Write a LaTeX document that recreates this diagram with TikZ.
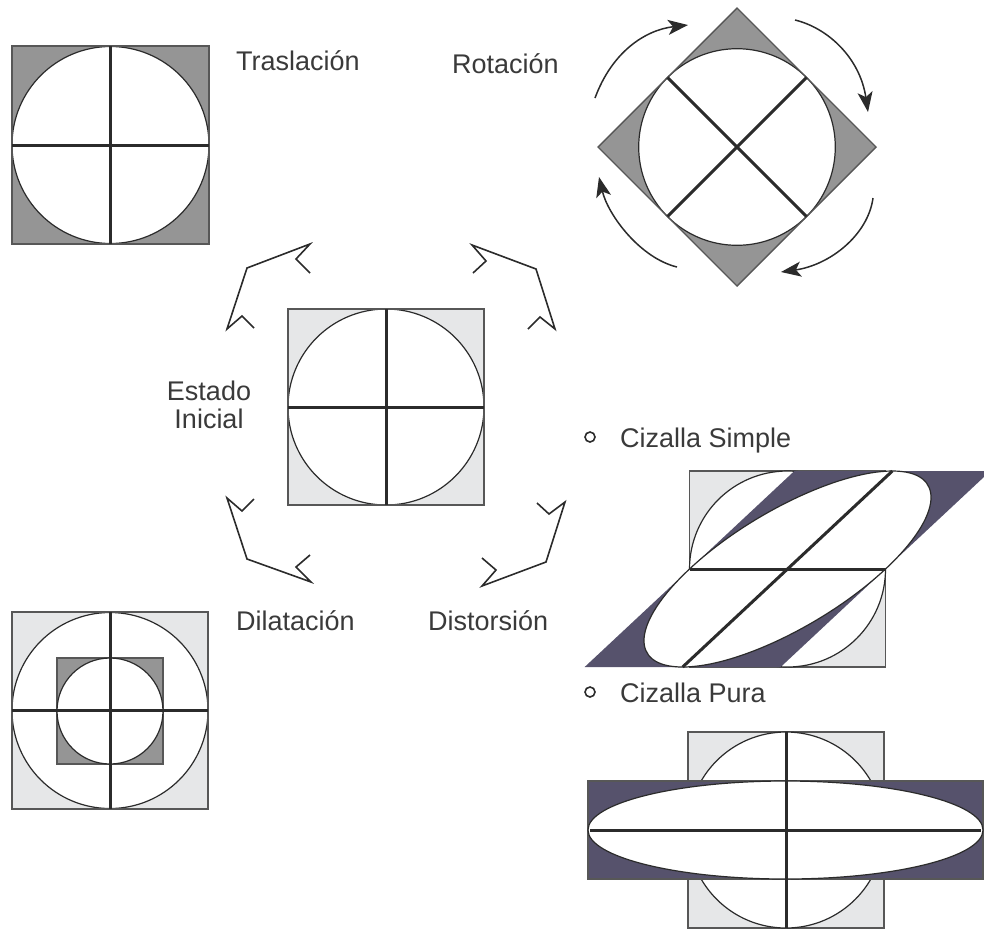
\documentclass[tikz,border=0pt]{standalone}
\usepackage{fontspec}
\setmainfont{Liberation Sans}
\usetikzlibrary{arrows.meta}
\definecolor{fillA}{HTML}{959595}
\definecolor{fillB}{HTML}{E6E7E8}
\definecolor{fillC}{HTML}{56526C}
\definecolor{edgecol}{HTML}{575757}
\definecolor{inkcol}{HTML}{2B2B2B}
\definecolor{txtcol}{HTML}{3A3A3A}
\begin{document}
\begin{tikzpicture}[x=1pt,y=-1pt,
  sqedge/.style={draw=edgecol, line width=1.4pt},
  circline/.style={draw=inkcol, line width=1.2pt},
  crossline/.style={draw=inkcol, line width=3pt},
  chevline/.style={draw=inkcol, line width=1.6pt, line join=miter},
  rotarrow/.style={draw=inkcol, line width=1.5pt, -{Stealth[length=20pt,width=15pt,inset=5pt]}},
  lbl/.style={font=\fontsize{27}{28}\selectfont, text=txtcol, inner sep=0pt, anchor=base west},
  lblc/.style={font=\fontsize{27}{28}\selectfont, text=txtcol, inner sep=0pt, anchor=base}]
\useasboundingbox (0,0) rectangle (984,930);
\clip (0,0) rectangle (984,930);

% ---------- Traslacion ----------
\fill[fillA] (12,46) rectangle (209,244);
\fill[white] (110.5,145) circle[radius=98.5];
\draw[circline] (110.5,145) circle[radius=98.5];
\draw[sqedge] (12,46) rectangle (209,244);
\draw[crossline] (110.5,46) -- (110.5,244);
\draw[crossline] (12,145) -- (209,145);
\node[lbl] (ttras) at (236,70) {Traslación};

% ---------- Rotacion ----------
\fill[fillA] (737,8) -- (876,147) -- (737,286) -- (598,147) -- cycle;
\fill[white] (737,147) circle[radius=98.3];
\draw[circline] (737,147) circle[radius=98.3];
\draw[sqedge] (737,8) -- (876,147) -- (737,286) -- (598,147) -- cycle;
\draw[crossline] (667.5,77.5) -- (806.5,216.5);
\draw[crossline] (806.5,77.5) -- (667.5,216.5);
\draw[rotarrow] (595,98) .. controls (612,52) and (645,30) .. (688,25);
\draw[rotarrow] (795,20) .. controls (828,28) and (860,58) .. (868,112);
\draw[rotarrow] (873,198) .. controls (868,235) and (830,265) .. (781,272);
\draw[rotarrow] (677,267) .. controls (640,258) and (608,215) .. (599,177);
\node[lbl] (trot) at (452,73) {Rotación};

% ---------- Estado inicial ----------
\fill[fillB] (288,309) rectangle (484,505);
\fill[white] (386,407) circle[radius=98];
\draw[circline] (386,407) circle[radius=98];
\draw[sqedge] (288,309) rectangle (484,505);
\draw[crossline] (386,309) -- (386,505);
\draw[crossline] (288,407) -- (484,407);
\node[lblc] (test) at (209,400) {Estado};
\node[lblc] (tini) at (209,428) {Inicial};

% ---------- chevron arrows ----------
\draw[chevline] (310,273) -- (296,259) -- (310,244) -- (247,268) -- (227,329) -- (242,316) -- (254,328);
\draw[chevline] (473,273) -- (486,261) -- (472,245) -- (536,269) -- (555,329) -- (540,317) -- (528,329);
\draw[chevline] (254,499) -- (242,511) -- (227,498) -- (247,559) -- (311,582) -- (296,567) -- (310,555);
\draw[chevline] (537,503) -- (549,514) -- (565,502) -- (546,562) -- (482,586) -- (496,570) -- (482,558);

% ---------- Dilatacion ----------
\fill[fillB] (12,612) rectangle (208,809);
\fill[white] (110,710.5) circle[radius=98];
\draw[circline] (110,710.5) circle[radius=98];
\draw[sqedge] (12,612) rectangle (208,809);
\fill[fillA] (57,658) rectangle (163,764);
\draw[sqedge] (57,658) rectangle (163,764);
\fill[white] (110,711) circle[radius=53];
\draw[circline] (110,711) circle[radius=53];
\draw[crossline] (110,612) -- (110,809);
\draw[crossline] (12,710.5) -- (208,710.5);
\node[lbl] (tdil) at (236,630) {Dilatación};
\node[lbl] (tdis) at (428,630) {Distorsión};

% ---------- Cizalla simple ----------
\draw[inkcol, line width=1.6pt] (590,437) circle[radius=5];
\node[lbl] (tcs) at (620,447) {Cizalla Simple};
\fill[fillB] (689.5,471) rectangle (885.5,667);
\draw[sqedge] (689.5,471) rectangle (885.5,667);
\fill[white] (787.5,569) circle[radius=98];
\draw[circline] (787.5,569) circle[radius=98];
\begin{scope}[shift={(787.5,569)}, xslant=1.07]
  \fill[fillC] (-98,-98) rectangle (98,98);
  \fill[white] (0,0) circle[radius=98];
  \draw[circline] (0,0) circle[radius=98];
  \draw[crossline] (0,-98) -- (0,98);
\end{scope}
\draw[crossline] (689.5,569) -- (885.5,569);

% ---------- Cizalla pura ----------
\draw[inkcol, line width=1.6pt] (590,692) circle[radius=5];
\node[lbl] (tcp) at (620,702) {Cizalla Pura};
\fill[fillB] (688,732) rectangle (884,928);
\draw[sqedge] (688,732) rectangle (884,928);
\fill[white] (786,830) circle[radius=98];
\draw[circline] (786,830) circle[radius=98];
\fill[fillC] (588,781) rectangle (983,879);
\draw[sqedge] (588,781) rectangle (983,879);
\fill[white] (785.5,830) ellipse[x radius=197.5, y radius=49];
\draw[circline] (785.5,830) ellipse[x radius=197.5, y radius=49];
\draw[crossline] (786,732) -- (786,928);
\draw[crossline] (590,830) -- (981,830);
\end{tikzpicture}
\end{document}
